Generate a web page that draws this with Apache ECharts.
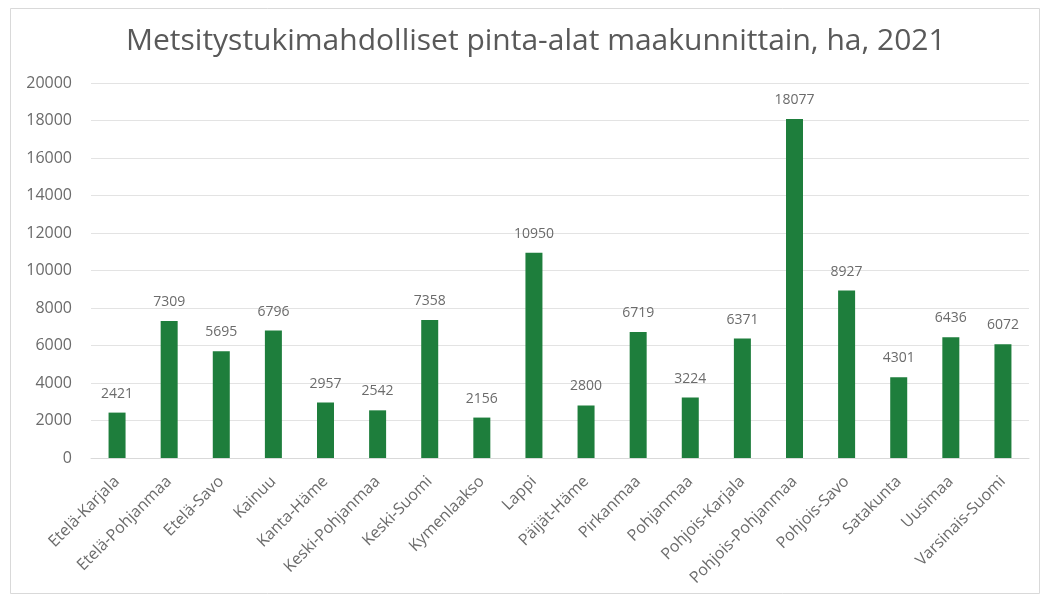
<!DOCTYPE html>
<html>
<head>
<meta charset="utf-8">
<script src="https://cdn.jsdelivr.net/npm/echarts@6/dist/echarts.min.js"></script>
<style>
  html, body { margin: 0; padding: 0; background: #ffffff; }
  #chart { width: 1046px; height: 599px; }
</style>
</head>
<body>
<div id="chart"></div>
<script>
// Regions (maakunnat)
const regions = [
  'Etelä-Karjala', 'Etelä-Pohjanmaa', 'Etelä-Savo', 'Kainuu', 'Kanta-Häme',
  'Keski-Pohjanmaa', 'Keski-Suomi', 'Kymenlaakso', 'Lappi', 'Päijät-Häme',
  'Pirkanmaa', 'Pohjanmaa', 'Pohjois-Karjala', 'Pohjois-Pohjanmaa',
  'Pohjois-Savo', 'Satakunta', 'Uusimaa', 'Varsinais-Suomi'
];
// Afforestation-eligible area, hectares
const hectares = [
  2421, 7309, 5695, 6796, 2957, 2542, 7358, 2156, 10950, 2800,
  6719, 3224, 6371, 18077, 8927, 4301, 6436, 6072
];
const yTicks = { min: 0, max: 20000, interval: 2000 };

const chart = echarts.init(document.getElementById('chart'));
const textColor = '#6b6b6b';
chart.setOption({
  backgroundColor: '#ffffff',
  animation: false,
  graphic: [{
    type: 'rect',
    shape: { x: 10.5, y: 8.5, width: 1029, height: 585 },
    style: { fill: 'none', stroke: '#d9d9d9', lineWidth: 1 },
    silent: true
  }],
  title: {
    text: 'Metsitystukimahdolliset pinta-alat maakunnittain, ha, 2021',
    left: 121,
    top: 21,
    textStyle: {
      fontFamily: 'Open Sans',
      fontWeight: 'normal',
      fontSize: 30,
      color: '#595959'
    }
  },
  grid: { left: 91, right: 17, top: 83, bottom: 141, containLabel: false },
  xAxis: {
    type: 'category',
    data: regions,
    axisTick: { show: false },
    axisLine: { show: true, lineStyle: { color: '#d9d9d9' } },
    axisLabel: {
      rotate: 45,
      interval: 0,
      margin: 21,
      color: textColor,
      fontFamily: 'Open Sans',
      fontSize: 16
    }
  },
  yAxis: {
    type: 'value',
    min: yTicks.min,
    max: yTicks.max,
    interval: yTicks.interval,
    axisLine: { show: false },
    axisTick: { show: false },
    splitLine: { lineStyle: { color: '#e3e3e3', width: 1 } },
    axisLabel: {
      margin: 19,
      color: textColor,
      fontFamily: 'Open Sans',
      fontSize: 16,
      formatter: v => String(v)
    }
  },
  series: [{
    type: 'bar',
    data: hectares,
    barWidth: 17,
    itemStyle: { color: '#1e7e3c' },
    label: {
      show: true,
      position: 'top',
      distance: 12,
      color: textColor,
      fontFamily: 'Open Sans',
      fontSize: 14
    }
  }]
});
</script>
</body>
</html>
